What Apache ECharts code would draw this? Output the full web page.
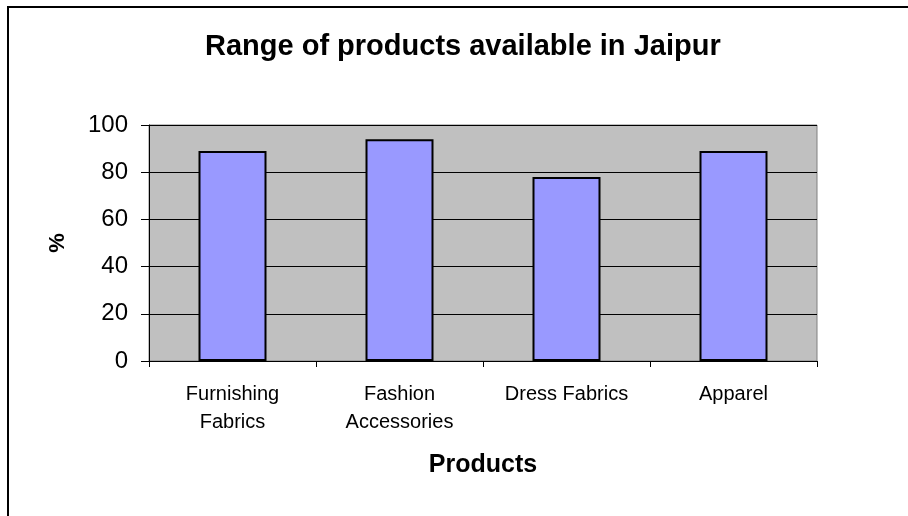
<html>
<head>
<meta charset="UTF-8">
<script src="https://cdnjs.cloudflare.com/ajax/libs/echarts/6.0.0/echarts.min.js"></script>
</head>
<body style="margin:0">
<div id="chart" style="width:908px;height:516px"></div>
<script>
// categories and values
var products = ['Furnishing\nFabrics', 'Fashion\nAccessories', 'Dress Fabrics', 'Apparel'];
var percent = [89, 94, 78, 89];
var yTicks = [0, 20, 40, 60, 80, 100];

var chart = echarts.init(document.getElementById('chart'));
var option = {
	backgroundColor: '#fff',
	animation: false,
	title: {
		text: 'Range of products available in Jaipur',
		left: 200, top: 27,
		textStyle: {fontFamily: 'Liberation Sans', fontSize: 29, fontWeight: 'bold', color: '#000'}
	},
	graphic: [{
		type: 'rect', silent: true,
		shape: {x: 8, y: 7, width: 1000, height: 600},
		style: {fill: null, stroke: '#000', lineWidth: 2}
	}],
	grid: {left: 149, right: 91, top: 125, bottom: 155, show: true, backgroundColor: '#c0c0c0', borderColor: '#808080', borderWidth: 1},
	xAxis: {
		type: 'category', data: products,
		name: 'Products', nameLocation: 'middle', nameGap: 92,
		nameTextStyle: {fontFamily: 'Liberation Sans', fontSize: 25, fontWeight: 'bold', color: '#000'},
		axisLine: {lineStyle: {color: '#000', width: 1}},
		axisTick: {show: true, length: 6, lineStyle: {color: '#000'}},
		axisLabel: {fontFamily: 'Liberation Sans', fontSize: 20, color: '#000', margin: 19, lineHeight: 28}
	},
	yAxis: {
		type: 'value', min: yTicks[0], max: yTicks[yTicks.length - 1], interval: 20,
		name: '%', nameLocation: 'middle', nameGap: 80, nameRotate: 90,
		nameTextStyle: {fontFamily: 'Liberation Sans', fontSize: 22, fontWeight: 'bold', color: '#000'},
		axisLine: {show: true, lineStyle: {color: '#000', width: 1}},
		axisTick: {show: true, length: 8, inside: false, lineStyle: {color: '#000'}},
		axisLabel: {fontFamily: 'Liberation Sans', fontSize: 24, color: '#000', margin: 21},
		splitLine: {lineStyle: {color: '#000', width: 1}}
	},
	series: [{
		type: 'bar', data: percent, barWidth: 68,
		itemStyle: {color: '#9999ff', borderColor: '#000', borderWidth: 2}
	}]
};
chart.setOption(option);
</script>
</body>
</html>
